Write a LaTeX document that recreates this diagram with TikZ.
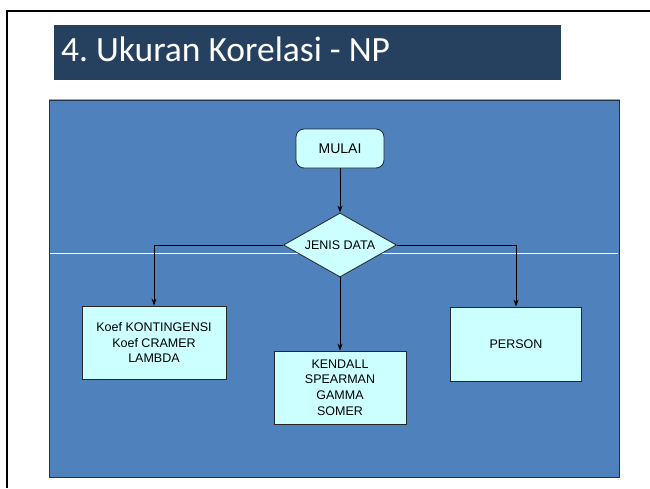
\documentclass[tikz,border=0pt]{standalone}
\usepackage{fontspec}
\setmainfont{Liberation Sans}
\newfontfamily\titlefont{Carlito}
\usetikzlibrary{shapes.geometric,arrows.meta}
\definecolor{navy}{RGB}{38,64,96}
\definecolor{panelblue}{RGB}{79,129,189}
\definecolor{boxfill}{RGB}{204,255,255}
\frenchspacing
\begin{document}
\begin{tikzpicture}[x=1pt,y=-1pt,
  box/.style={draw=black!85,fill=boxfill,line width=0.8pt,align=center,
    font=\fontsize{12.5}{15.8}\selectfont,inner sep=0pt},
  flow/.style={-{Stealth[length=7pt,width=5pt]},line width=0.8pt}]
\useasboundingbox (0,0) rectangle (650,488);
\fill[white] (0,0) rectangle (650,488);
% slide frame and title bar
\draw[line width=2.5pt] (7,488) -- (7,11) -- (650,11);
\fill[navy] (54,25) rectangle (561,80);
\node[anchor=base west,text=white,inner sep=0pt,
  font=\titlefont\fontsize{35.5}{38}\selectfont] (title) at (61,61) {4. Ukuran Korelasi - NP};
% panel
\draw[fill=panelblue,draw=navy!80!black] (49,100) rectangle (619,477);
\draw[gray!70] (49,99) -- (620,99);
\draw[white,line width=0.8pt] (50,253) -- (618,253);
% flowchart
\node[box,rounded corners=8pt,minimum width=88pt,minimum height=39pt,
  font=\fontsize{14}{16}\selectfont] (mulai) at (340,148.5) {MULAI};
\node[box,diamond,aspect=1.77,minimum width=113pt,minimum height=64pt] (jenis) at (340,245) {JENIS DATA};
\node[box,minimum width=144pt,minimum height=73pt] (kontingensi) at (154,342.5)
  {Koef KONTINGENSI\\Koef CRAMER\\LAMBDA};
\node[box,minimum width=132pt,minimum height=73pt] (kendall) at (340,387.5)
  {KENDALL\\SPEARMAN\\GAMMA\\SOMER};
\node[box,minimum width=131pt,minimum height=74pt] (person) at (516,344) {PERSON};
\draw[flow] (mulai) -- (jenis);
\draw[flow] (jenis.west) -| (kontingensi.north);
\draw[flow] (jenis.south) -- (kendall.north);
\draw[flow] (jenis.east) -| (person.north);
\end{tikzpicture}
\end{document}
